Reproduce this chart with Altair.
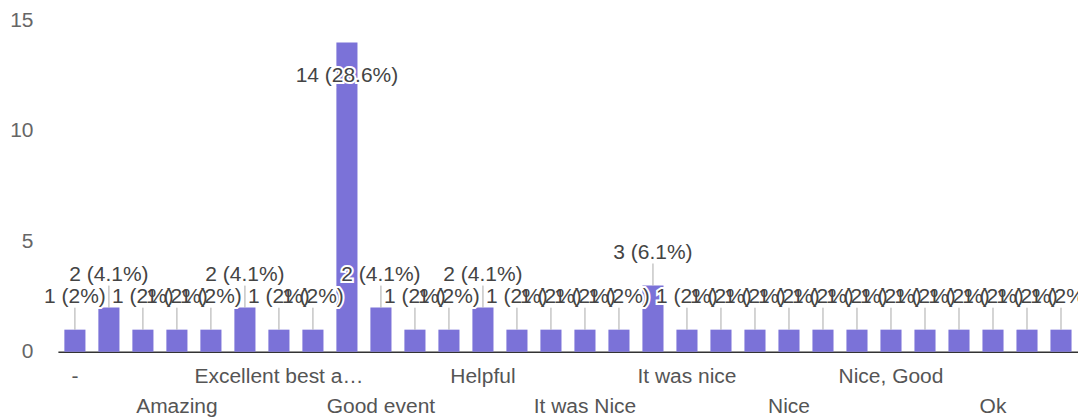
import altair as alt
import pandas as pd

categories = ["-", "Admirable", "All good", "Amazing", "Awesome", "Excellent",
              "Excellent best and informative", "Fine", "Good", "Good event",
              "Good session", "Great", "Helpful", "Informative", "Interesting",
              "It was Nice", "It was good", "It was great", "It was nice",
              "Knowledgeable", "Learned a lot", "Nice", "Nice event", "Nice session",
              "Nice, Good", "No", "Nothing", "Ok", "Very good", "Very helpful"]
counts = [1, 2, 1, 1, 1, 2, 1, 1, 14, 2, 1, 1, 2, 1, 1, 1, 1, 3, 1, 1,
          1, 1, 1, 1, 1, 1, 1, 1, 1, 1]
y_ticks = [0, 5, 10, 15]

df = pd.DataFrame({"category": categories, "count": counts})
df["idx"] = range(len(df))

FONT = "Liberation Sans"
BAR = "#7b72d8"
TXT = "#444444"
W, H = 1022, 332

base = alt.Chart(df).transform_joinaggregate(total="sum(count)").transform_calculate(
    label="datum.count + ' (' + (round(datum.count / datum.total * 1000) / 10) + '%)'"
)

x = alt.X("category:N", sort=categories,
          scale=alt.Scale(paddingInner=0.38, paddingOuter=0.19),
          axis=alt.Axis(labels=False, ticks=False, title=None, domain=True,
                        domainColor="#333333", domainWidth=1.5))
y = alt.Y("count:Q", scale=alt.Scale(domain=[0, 15], nice=False),
          axis=alt.Axis(values=y_ticks, domain=False, ticks=False, grid=False,
                        title=None, labelFont=FONT, labelFontSize=21,
                        labelColor="#666666", labelPadding=25))

bars = base.mark_bar(color=BAR).encode(x=x, y=y)

lines = base.transform_filter("datum.count < 10").mark_rule(
    color="#aaaaaa", strokeWidth=1, y2Offset=-22
).encode(x=alt.X("category:N", sort=categories), y="count:Q", y2="count:Q")

small = base.transform_filter("datum.count < 10")
big = base.transform_filter("datum.count >= 10")

def lab(src, dy, halo):
    kw = dict(font=FONT, fontSize=21, baseline="middle", align="center", dy=dy)
    if halo:
        m = src.mark_text(color="white", stroke="white", strokeWidth=4, **kw)
    else:
        m = src.mark_text(color=TXT, **kw)
    return m.encode(x=alt.X("category:N", sort=categories), y="count:Q", text="label:N")

labels = [lab(small, -33, True), lab(small, -33, False),
          lab(big, 34, True), lab(big, 34, False)]

row1 = base.transform_filter("datum.idx % 3 == 0 && (floor(datum.idx / 3) % 2) == 0").mark_text(
    font=FONT, fontSize=21, color="#555555", baseline="middle", limit=178
).encode(x=alt.X("category:N", sort=categories), y=alt.value(H + 25), text="category:N")

row2 = base.transform_filter("datum.idx % 3 == 0 && (floor(datum.idx / 3) % 2) == 1").mark_text(
    font=FONT, fontSize=21, color="#555555", baseline="middle", limit=178
).encode(x=alt.X("category:N", sort=categories), y=alt.value(H + 55), text="category:N")

chart = alt.layer(bars, lines, *labels, row1, row2).properties(
    width=W, height=H,
    autosize=alt.AutoSizeParams(type="none"),
    padding={"left": 50, "top": 12, "right": 0, "bottom": 75},
).configure_view(stroke=None)

chart.save("out.html", embed_options={"renderer": "svg", "actions": False})
